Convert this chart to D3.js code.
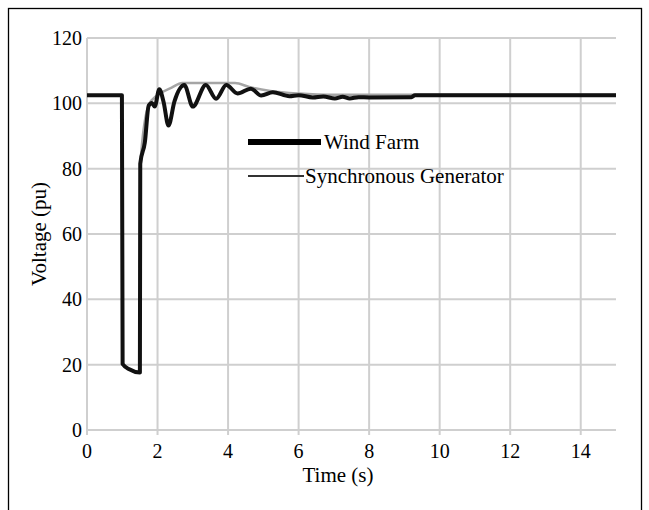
<!DOCTYPE html>
<html>
<head>
<meta charset="utf-8">
<script src="https://cdn.jsdelivr.net/npm/d3@7"></script>
<style>
  body { margin: 0; background: #fff; }
  svg text { font-family: "Liberation Serif", "Times New Roman", serif; fill: #000; }
</style>
</head>
<body>
<div id="chart"></div>
<script>
// data: [time (s), voltage (pu)]
const windFarm = [
    [0, 102.5], [0.99, 102.5], [1.01, 20.2], [1.2, 18.6], [1.5, 17.6],
    [1.51, 81.5], [1.64, 88], [1.75, 99.3], [1.84, 100.1], [1.92, 99.0],
    [2.05, 104.3], [2.17, 100.5], [2.31, 93.2], [2.48, 100.6], [2.76, 105.6],
    [3.0, 99.0], [3.37, 105.6], [3.66, 101.4], [3.95, 105.6], [4.27, 103.0],
    [4.65, 104.5], [4.94, 102.4], [5.27, 103.4], [5.74, 102.2], [6.0, 102.5],
    [6.4, 101.8], [6.7, 102.1], [7.03, 101.5], [7.25, 102.0], [7.45, 101.5],
    [7.7, 101.9], [8.0, 101.8], [9.2, 101.9], [9.3, 102.5], [15, 102.5]
];
const syncGen = [
    [0, 102.5], [0.99, 102.5], [1.01, 20.2], [1.5, 17.6], [1.51, 81],
    [1.75, 99.5], [2.0, 102.5], [2.4, 104.8], [2.7, 106.2], [4.2, 106.2],
    [4.6, 105.0], [5.2, 103.8], [6.0, 103.0], [7.0, 102.6], [15, 102.6]
];
const xTicks = [0, 2, 4, 6, 8, 10, 12, 14];
const yTicks = [0, 20, 40, 60, 80, 100, 120];
const legendItems = ['Wind Farm', 'Synchronous Generator'];

const width = 649, height = 510;
const svg = d3.select('#chart').append('svg')
    .attr('width', width)
    .attr('height', height);

// outer frame
svg.append('rect')
    .attr('x', 8.5).attr('y', 8.5)
    .attr('width', 633).attr('height', 520)
    .attr('fill', 'none')
    .attr('stroke', '#000')
    .attr('stroke-width', 1.3);

const x = d3.scaleLinear().domain([0, 15]).range([87, 616]);
const y = d3.scaleLinear().domain([0, 120]).range([430, 38]);

const gridColor = '#cfcfcf';

// horizontal grid
svg.append('g').selectAll('line')
    .data(yTicks)
    .enter()
    .append('line')
    .attr('x1', x(0)).attr('x2', x(15))
    .attr('y1', d => y(d)).attr('y2', d => y(d))
    .attr('stroke', gridColor)
    .attr('stroke-width', 2);

// vertical grid (sticks out a little below the 0 line)
svg.append('g').selectAll('line')
    .data(xTicks)
    .enter()
    .append('line')
    .attr('x1', d => x(d)).attr('x2', d => x(d))
    .attr('y1', y(120)).attr('y2', y(0) + 5)
    .attr('stroke', gridColor)
    .attr('stroke-width', 2);

// tick labels
svg.append('g').selectAll('text')
    .data(yTicks)
    .enter()
    .append('text')
    .attr('x', 82)
    .attr('y', d => y(d) + 7)
    .attr('text-anchor', 'end')
    .attr('font-size', 20)
    .text(d => d);

svg.append('g').selectAll('text')
    .data(xTicks)
    .enter()
    .append('text')
    .attr('x', d => x(d))
    .attr('y', 458)
    .attr('text-anchor', 'middle')
    .attr('font-size', 20)
    .text(d => d);

// axis titles
svg.append('text')
    .attr('x', 338).attr('y', 482)
    .attr('text-anchor', 'middle')
    .attr('font-size', 21)
    .text('Time (s)');

svg.append('text')
    .attr('transform', 'translate(46,234) rotate(-90)')
    .attr('text-anchor', 'middle')
    .attr('font-size', 21)
    .text('Voltage (pu)');

const line = d3.line()
    .x(d => x(d[0]))
    .y(d => y(d[1]))
    .curve(d3.curveMonotoneX);

// synchronous generator underneath, wind farm on top
svg.append('path')
    .datum(syncGen)
    .attr('d', line)
    .attr('fill', 'none')
    .attr('stroke', '#a5a5a5')
    .attr('stroke-width', 2.5);

svg.append('path')
    .datum(windFarm)
    .attr('d', line)
    .attr('fill', 'none')
    .attr('stroke', '#111')
    .attr('stroke-width', 4)
    .attr('stroke-linejoin', 'round');

// legend
const legend = svg.append('g');
legend.append('line')
    .attr('x1', 248).attr('x2', 321)
    .attr('y1', 142).attr('y2', 142)
    .attr('stroke', '#000')
    .attr('stroke-width', 6);
legend.append('text')
    .attr('x', 324).attr('y', 149)
    .attr('font-size', 21)
    .text(legendItems[0]);

legend.append('line')
    .attr('x1', 248).attr('x2', 304)
    .attr('y1', 176).attr('y2', 176)
    .attr('stroke', '#333')
    .attr('stroke-width', 2);
legend.append('text')
    .attr('x', 305).attr('y', 183)
    .attr('font-size', 21)
    .text(legendItems[1]);
</script>
</body>
</html>
